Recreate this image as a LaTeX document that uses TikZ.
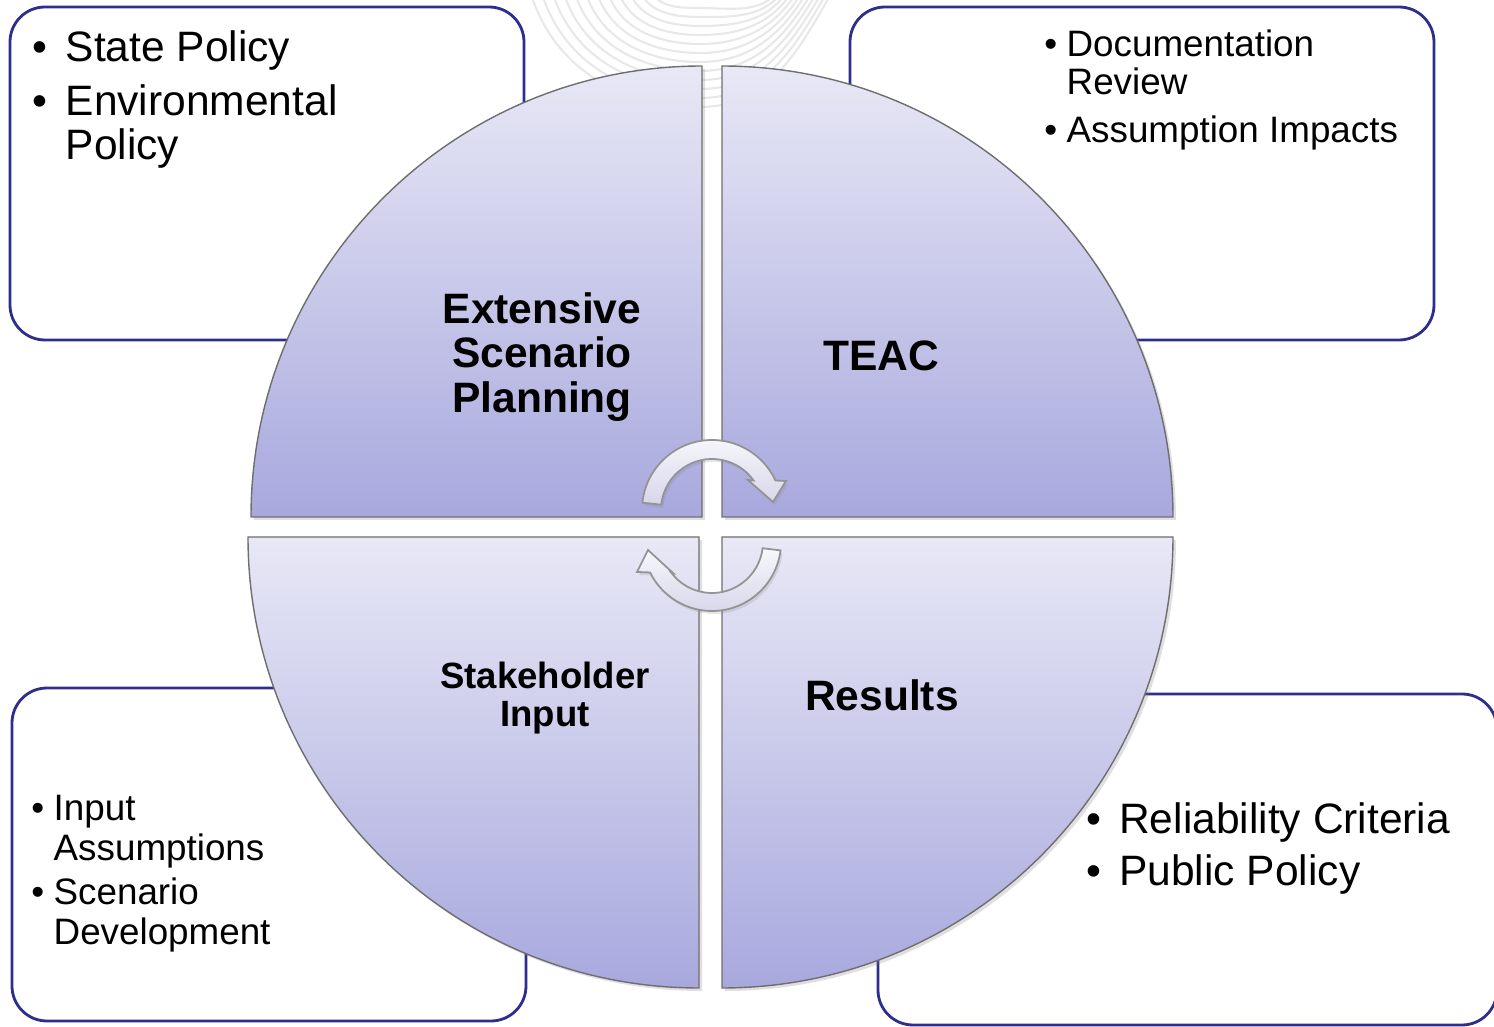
\documentclass[tikz,border=0pt]{standalone}
\usepackage{fontspec}
\setmainfont{Liberation Sans}
\usetikzlibrary{shadows}
\definecolor{boxline}{RGB}{46,46,140}
\definecolor{qtop}{RGB}{232,232,246}
\definecolor{qbot}{RGB}{168,168,222}
\definecolor{arcgray}{RGB}{232,232,232}
\definecolor{qedge}{RGB}{110,110,110}
\definecolor{artop}{RGB}{247,247,252}
\definecolor{arbot}{RGB}{214,214,234}
\begin{document}
\begin{tikzpicture}[
  infobox/.style={draw=boxline, line width=0.8pt, fill=white, rounded corners=0.35cm},
  quad/.style={draw=qedge, line width=0.4pt, top color=qtop, bottom color=qbot,
    drop shadow={shadow xshift=0.03cm, shadow yshift=-0.03cm, opacity=0.25}},
  cyc/.style={draw=gray!85, line width=0.5pt, top color=artop, bottom color=arbot,
    drop shadow={shadow xshift=0.02cm, shadow yshift=-0.03cm, opacity=0.2}},
  bgarc/.style={draw=arcgray, line width=0.6pt},
  qlabel/.style={font=\fontsize{12.1}{12.6}\selectfont\bfseries, align=center, inner sep=0pt},
  slabel/.style={font=\fontsize{10.4}{11}\selectfont\bfseries, align=center, inner sep=0pt},
  bigtext/.style={anchor=base west, inner sep=0pt, font=\fontsize{12.1}{12.2}\selectfont},
  smalltext/.style={anchor=base west, inner sep=0pt, font=\fontsize{10.47}{10.6}\selectfont},
]
\useasboundingbox (0,0) rectangle (14.94,10.27);

% faint background arcs
\foreach \i in {0,...,11}{
  \pgfmathsetmacro\L{6.5-0.11*\i}
  \pgfmathsetmacro\R{7.8+0.05*\i}
  \pgfmathsetmacro\B{10.27-0.08-0.09*\i}
  \draw[bgarc] (\L,10.4) to[out=-75,in=180] (7.0,\B) to[out=0,in=-120] (\R,10.4);
}

% corner boxes
\path[infobox] (0.10,6.87) rectangle (5.24,10.20);
\path[infobox] (8.50,6.87) rectangle (14.34,10.20);
\path[infobox] (0.12,0.06) rectangle (5.26,3.39);
\path[infobox] (8.78,0.02) rectangle (14.97,3.33);

% quadrants
\path[quad] (7.02,5.10) -- (2.51,5.10) arc[start angle=180, end angle=90, radius=4.51] -- cycle;
\path[quad] (7.22,5.10) -- (7.22,9.61) arc[start angle=90, end angle=0, radius=4.51] -- cycle;
\path[quad] (6.99,4.90) -- (6.99,0.39) arc[start angle=270, end angle=180, radius=4.51] -- cycle;
\path[quad] (7.22,4.90) -- (11.73,4.90) arc[start angle=0, end angle=-90, radius=4.51] -- cycle;

% circular arrows
\begin{scope}[shift={(7.12,5.17)}]
  \path[cyc] (174:0.70) arc[start angle=174, end angle=24.9, radius=0.70]
    -- (0.74,0.29) -- (0.61,0.08) -- (0.36,0.30) -- (35.3:0.51)
    arc[start angle=35.3, end angle=174, radius=0.51] -- cycle;
\end{scope}
\begin{scope}[shift={(7.12,4.85)}]
  \path[cyc] (-7:0.69) arc[start angle=-7, end angle=-153.8, radius=0.69]
    -- (-0.75,-0.30) -- (-0.64,-0.08) -- (-0.39,-0.31) -- (-143.3:0.51)
    arc[start angle=-143.3, end angle=-7, radius=0.51] -- cycle;
\end{scope}

% quadrant labels
\node[qlabel] (esp) at (5.42,6.70) {Extensive\\Scenario\\Planning};
\node[qlabel] (teac) at (8.81,6.71) {TEAC};
\node[slabel] (stake) at (5.45,3.29) {Stakeholder\\Input};
\node[qlabel] (res) at (8.82,3.32) {Results};

% box texts
\node[bigtext] (tltext) at (0.316,9.65) {\begin{tabular}[t]{@{}p{0.334cm}@{}l@{}}
  •&State Policy\\[2.9pt]
  •&Environmental\\
   &Policy\end{tabular}};
\node[smalltext] (trtext) at (10.436,9.70) {\begin{tabular}[t]{@{}p{0.224cm}@{}l@{}}
  •&Documentation\\
   &Review\\[2.85pt]
  •&Assumption Impacts\end{tabular}};
\node[smalltext, font=\fontsize{10.47}{11.1}\selectfont] (bltext) at (0.306,2.06) {\begin{tabular}[t]{@{}p{0.224cm}@{}l@{}}
  •&Input\\
   &Assumptions\\[1.7pt]
  •&Scenario\\
   &Development\end{tabular}};
\node[bigtext] (brtext) at (10.856,1.93) {\begin{tabular}[t]{@{}p{0.33cm}@{}l@{}}
  •&Reliability Criteria\\[2.3pt]
  •&Public Policy\end{tabular}};
\end{tikzpicture}
\end{document}
